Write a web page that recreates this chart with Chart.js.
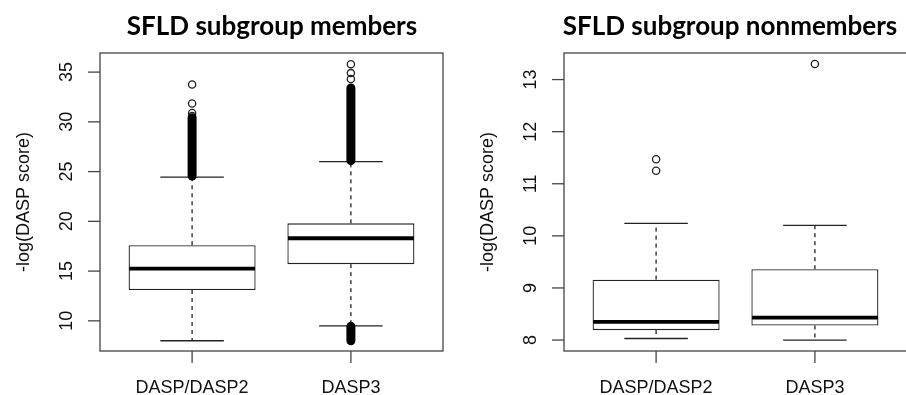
<!DOCTYPE html>
<html>
<head>
<meta charset="utf-8">
<script src="https://cdn.jsdelivr.net/npm/chart.js@4.4.1/dist/chart.umd.min.js"></script>
<style>
  html, body { margin: 0; padding: 0; background: #fff; overflow: hidden; }
  #wrap { position: relative; width: 906px; height: 395px; overflow: hidden; }
  #c1 { position: absolute; left: 0; top: 0; }
  #c2 { position: absolute; left: 453px; top: 0; }
</style>
</head>
<body>
<div id="wrap">
  <canvas id="c1" width="453" height="395"></canvas>
  <canvas id="c2" width="460" height="395"></canvas>
</div>
<script>
// groups on the x axis
const categories = ["DASP/DASP2", "DASP3"];
const positions = [1, 2];

// SFLD subgroup members
const memQ1 = [13.1, 15.7];
const memMedian = [15.25, 18.3];
const memQ3 = [17.6, 19.8];
const memWhiskLo = [8.0, 9.5];
const memWhiskHi = [24.45, 26.0];
const memOutliers = [[30.6, 30.9, 31.85, 33.75], [34.3, 34.9, 35.8]];
const memDenseBands = [[[24.55, 30.4]], [[26.1, 33.4], [8.0, 9.45]]]; // ranges packed solid with outliers
const memTicks = [10, 15, 20, 25, 30, 35];

// SFLD subgroup nonmembers
const nonQ1 = [8.19, 8.28];
const nonMedian = [8.35, 8.43];
const nonQ3 = [9.16, 9.36];
const nonWhiskLo = [8.03, 8.0];
const nonWhiskHi = [10.24, 10.2];
const nonOutliers = [[11.25, 11.47], [13.3]];
const nonDenseBands = [[], []];
const nonTicks = [8, 9, 10, 11, 12, 13];

const ink = "#222";
const axisFont = "18px 'Liberation Sans', Arial, sans-serif";

function line(ctx, x1, y1, x2, y2) {
  ctx.beginPath(); ctx.moveTo(x1, y1); ctx.lineTo(x2, y2); ctx.stroke();
}

function rBoxPlugin(d) {
  return {
    id: "rbox",
    afterDatasetsDraw(chart) {
      const ctx = chart.ctx, xs = chart.scales.x, ys = chart.scales.y, a = chart.chartArea;
      const bars = chart.getDatasetMeta(0).data;
      ctx.save();
      ctx.strokeStyle = ink;
      positions.forEach((p, i) => {
        const cx = xs.getPixelForValue(p);
        const half = bars[i].width / 2;
        const cap = xs.getPixelForValue(p + 0.2) - cx;
        const yq1 = ys.getPixelForValue(d.q1[i]), yq3 = ys.getPixelForValue(d.q3[i]);
        const ylo = ys.getPixelForValue(d.lo[i]), yhi = ys.getPixelForValue(d.hi[i]);
        ctx.lineWidth = 1.3;
        ctx.setLineDash([4, 4]);
        line(ctx, cx, yq3, cx, yhi);
        line(ctx, cx, yq1, cx, ylo);
        ctx.setLineDash([]);
        line(ctx, cx - cap, yhi, cx + cap, yhi);
        line(ctx, cx - cap, ylo, cx + cap, ylo);
        ctx.lineWidth = 3.8;
        ctx.strokeStyle = "#000";
        const ym = ys.getPixelForValue(d.med[i]);
        line(ctx, cx - half + 0.6, ym, cx + half - 0.6, ym);
        // packed outliers
        ctx.lineWidth = 9;
        ctx.lineCap = "round";
        d.bands[i].forEach(b => {
          line(ctx, cx, ys.getPixelForValue(b[0]), cx, ys.getPixelForValue(b[1]));
        });
        ctx.lineCap = "butt";
        ctx.strokeStyle = ink;
      });
      // frame
      ctx.lineWidth = 1.3;
      ctx.strokeStyle = "#444";
      ctx.strokeRect(a.left, a.top, a.right - a.left, a.bottom - a.top);
      // y ticks + rotated labels
      ctx.fillStyle = "#111";
      ctx.font = axisFont;
      d.ticks.forEach(t => {
        const ty = ys.getPixelForValue(t);
        line(ctx, a.left - 12, ty, a.left, ty);
        ctx.save();
        ctx.translate(a.left - 28, ty);
        ctx.rotate(-Math.PI / 2);
        ctx.textAlign = "center";
        ctx.textBaseline = "alphabetic";
        ctx.fillText(String(t), 0, 0);
        ctx.restore();
      });
      // x ticks + labels
      positions.forEach((p, i) => {
        const tx = xs.getPixelForValue(p);
        line(ctx, tx, a.bottom, tx, a.bottom + 12);
        ctx.textAlign = "center";
        ctx.textBaseline = "alphabetic";
        ctx.fillText(categories[i], tx, a.bottom + 42);
      });
      // axis title
      ctx.save();
      ctx.translate(a.left - 76, (a.top + a.bottom) / 2);
      ctx.rotate(-Math.PI / 2);
      ctx.textAlign = "center";
      ctx.textBaseline = "middle";
      ctx.fillText("-log(DASP score)", 0, 0);
      ctx.restore();
      // panel title
      ctx.fillStyle = "#000";
      ctx.font = "bold 26px Lato, 'Open Sans', sans-serif";
      ctx.textAlign = "center";
      ctx.textBaseline = "alphabetic";
      ctx.fillText(d.title, d.titleX, 35);
      ctx.restore();
    }
  };
}

function makeChart(id, d) {
  const outlierPts = [];
  d.out.forEach((vals, i) => vals.forEach(v => outlierPts.push({ x: positions[i], y: v })));
  return new Chart(document.getElementById(id), {
    type: "bar",
    data: {
      datasets: [
        {
          label: "box",
          data: positions.map((p, i) => ({ x: p, y: [d.q1[i], d.q3[i]] })),
          backgroundColor: "#fff",
          borderColor: ink,
          borderWidth: 1.3,
          borderSkipped: false,
          barPercentage: 0.8,
          categoryPercentage: 1.0
        },
        {
          type: "scatter",
          label: "outliers",
          data: outlierPts,
          pointStyle: "circle",
          pointRadius: 3.6,
          borderWidth: 1.3,
          borderColor: ink,
          backgroundColor: "rgba(0,0,0,0)"
        }
      ]
    },
    options: {
      responsive: false,
      animation: false,
      devicePixelRatio: 1,
      layout: { padding: d.padding },
      plugins: { legend: { display: false }, tooltip: { enabled: false }, title: { display: false } },
      scales: {
        x: {
          type: "linear", min: 0.42, max: 2.58, offset: false, display: false,
          afterBuildTicks: s => { s.ticks = positions.map(v => ({ value: v })); }
        },
        y: { type: "linear", min: d.ymin, max: d.ymax, display: false }
      }
    },
    plugins: [rBoxPlugin(d)]
  });
}

makeChart("c1", {
  q1: memQ1, med: memMedian, q3: memQ3, lo: memWhiskLo, hi: memWhiskHi,
  out: memOutliers, bands: memDenseBands, ticks: memTicks,
  ymin: 6.97, ymax: 36.92, title: "SFLD subgroup members", titleX: 272,
  padding: { left: 100, right: 10, top: 53, bottom: 44 }
});
makeChart("c2", {
  q1: nonQ1, med: nonMedian, q3: nonQ3, lo: nonWhiskLo, hi: nonWhiskHi,
  out: nonOutliers, bands: nonDenseBands, ticks: nonTicks,
  ymin: 7.79, ymax: 13.51, title: "SFLD subgroup nonmembers", titleX: 730 - 453,
  padding: { left: 111, right: 6, top: 53, bottom: 44 }
});
</script>
</body>
</html>
